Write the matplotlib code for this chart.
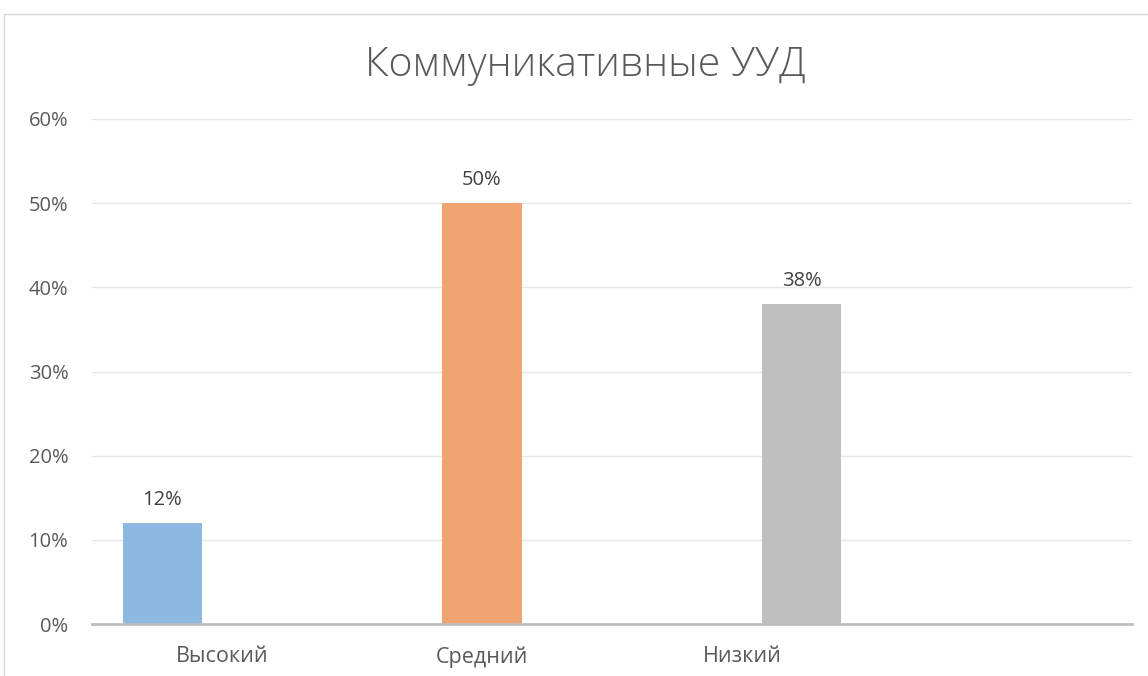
import matplotlib
matplotlib.use("Agg")
import matplotlib.pyplot as plt
import numpy as np
from matplotlib.ticker import FuncFormatter, MultipleLocator
from matplotlib.patches import Rectangle

title = "Коммуникативные УУД"
categories = ["Высокий", "Средний", "Низкий", ""]
series_names = ["Высокий", "Средний", "Низкий"]
series_values = [12, 50, 38]  # percent, one value per series in its own category
series_category = [0, 1, 2]
colors = ["#8cb8e1", "#f0a46f", "#bfbfbf"]
offsets = [-0.229, 0.0, 0.229]

plt.rcParams['font.family'] = ['Open Sans', 'DejaVu Sans']

fig = plt.figure(figsize=(11.48, 6.76), dpi=100)
ax = fig.add_axes([92/1148, 52/676, 1040/1148, 505/676])

for name, v, c, col, off in zip(series_names, series_values, series_category, colors, offsets):
    ax.bar(c + off, v, width=0.304, color=col, zorder=3)
    ax.text(c + off, v + 2.75, f"{v}%", ha="center", va="center",
            fontsize=14.5, color="#404040", zorder=4)

ax.set_xlim(-0.5, len(categories) - 0.5)
ax.set_ylim(0, 60)
ax.yaxis.set_major_locator(MultipleLocator(10))
ax.yaxis.set_major_formatter(FuncFormatter(lambda v, p: f"{int(round(v))}%"))
ax.set_xticks(range(len(categories)))
ax.set_xticklabels(categories)
ax.tick_params(axis="both", length=0, labelsize=14.5, labelcolor="#595959")
ax.tick_params(axis="x", labelsize=15.5)
ax.tick_params(axis="y", pad=17)
ax.tick_params(axis="x", pad=16)

ax.grid(axis="y", color="#e6e6e6", linewidth=1.0, zorder=0)
for s in ["top", "right", "left"]:
    ax.spines[s].set_visible(False)
ax.spines["bottom"].set_color("#bfbfbf")
ax.spines["bottom"].set_linewidth(2.0)
ax.spines["bottom"].set_zorder(5)

fig.text(585/1148, 1 - 65/676, title, ha="center", va="center",
         fontsize=29.5, color="#595959", fontweight="light")

# chart area border
fig.add_artist(Rectangle((4/1148, -0.1), 1.2, 1 - 14/676 + 0.1,
                         transform=fig.transFigure, fill=False,
                         edgecolor="#d9d9d9", linewidth=1.0))

fig.savefig("out.png", dpi=100, facecolor="white")
